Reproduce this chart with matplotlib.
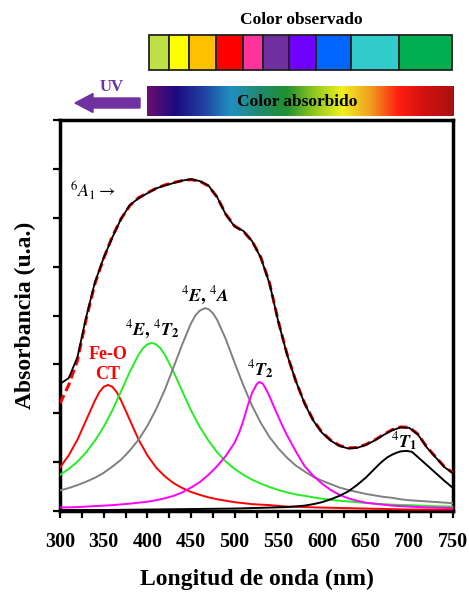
import numpy as np
import matplotlib
matplotlib.use("Agg")
import matplotlib.pyplot as plt
from matplotlib.colors import LinearSegmentedColormap
from matplotlib.patches import Rectangle, FancyArrow
from matplotlib.ticker import MultipleLocator

plt.rcParams['font.family'] = ['Liberation Serif', 'DejaVu Serif']
plt.rcParams['mathtext.fontset'] = 'stix'

# ---------------- data ----------------
wavelength = list(range(300, 751, 10))

measured = [2.60, 2.72, 3.15, 3.97, 4.68, 5.18, 5.60, 5.98, 6.26, 6.40,
            6.50, 6.60, 6.66, 6.71, 6.76, 6.79, 6.75, 6.66, 6.42, 6.06,
            5.82, 5.73, 5.52, 5.18, 4.65, 3.87, 3.20, 2.66, 2.20, 1.85,
            1.60, 1.44, 1.33, 1.28, 1.29, 1.35, 1.44, 1.55, 1.65, 1.71,
            1.70, 1.56, 1.30, 1.10, 0.90, 0.77]

fit = [2.20, 2.58, 3.08, 3.93, 4.65, 5.17, 5.62, 5.98, 6.25, 6.41,
       6.51, 6.60, 6.67, 6.72, 6.76, 6.78, 6.75, 6.65, 6.42, 6.07,
       5.83, 5.72, 5.52, 5.19, 4.66, 3.88, 3.21, 2.66, 2.21, 1.86,
       1.61, 1.45, 1.34, 1.29, 1.30, 1.36, 1.45, 1.56, 1.66, 1.72,
       1.71, 1.57, 1.31, 1.11, 0.91, 0.78]

ct_x = [300, 310, 320, 330, 340, 345, 350, 355, 360, 365,
        370, 380, 390, 400, 410, 420, 430, 440, 450, 460,
        470, 480, 490, 500, 520, 540, 560, 580, 600, 625,
        650, 675, 700, 725, 750]
ct_y = [0.89, 1.14, 1.46, 1.86, 2.26, 2.43, 2.54, 2.58, 2.54, 2.43,
        2.26, 1.86, 1.46, 1.14, 0.89, 0.71, 0.57, 0.47, 0.39, 0.33,
        0.28, 0.24, 0.21, 0.18, 0.14, 0.12, 0.09, 0.08, 0.07, 0.06,
        0.05, 0.04, 0.03, 0.03, 0.03]

et2_x = [300, 310, 320, 330, 340, 350, 360, 370, 380, 390,
         395, 400, 405, 410, 415, 420, 430, 440, 450, 460,
         470, 480, 490, 500, 510, 520, 530, 540, 550, 560,
         570, 580, 590, 600, 620, 640, 660, 680, 700, 725, 750]
et2_y = [0.74, 0.86, 1.01, 1.20, 1.44, 1.72, 2.06, 2.45, 2.85, 3.20,
         3.33, 3.41, 3.44, 3.41, 3.33, 3.20, 2.85, 2.45, 2.06, 1.72,
         1.44, 1.20, 1.01, 0.86, 0.74, 0.64, 0.56, 0.49, 0.43, 0.38,
         0.34, 0.31, 0.28, 0.25, 0.21, 0.18, 0.15, 0.13, 0.12, 0.10, 0.09]

ea_x = [300, 310, 320, 330, 340, 350, 360, 370, 380, 390,
        400, 410, 420, 430, 440, 450, 455, 460, 466, 470,
        475, 480, 490, 500, 510, 520, 530, 540, 550, 560,
        570, 580, 590, 600, 610, 620, 630, 640, 650, 660,
        670, 680, 690, 700, 725, 750]
ea_y = [0.42, 0.47, 0.53, 0.60, 0.68, 0.78, 0.91, 1.05, 1.24, 1.46,
        1.74, 2.08, 2.48, 2.94, 3.41, 3.84, 4.00, 4.10, 4.15, 4.13,
        4.05, 3.91, 3.51, 3.03, 2.57, 2.15, 1.80, 1.51, 1.28, 1.09,
        0.93, 0.81, 0.70, 0.62, 0.55, 0.48, 0.43, 0.39, 0.35, 0.32,
        0.29, 0.27, 0.24, 0.22, 0.19, 0.16]

t2_x = [300, 320, 340, 360, 380, 400, 410, 420, 430, 440,
        450, 460, 470, 480, 490, 500, 505, 510, 515, 520,
        525, 528, 532, 536, 540, 545, 550, 555, 560, 570,
        580, 590, 600, 610, 620, 630, 640, 650, 660, 680,
        700, 725, 750]
t2_y = [0.07, 0.08, 0.10, 0.12, 0.15, 0.19, 0.22, 0.26, 0.31, 0.38,
        0.48, 0.59, 0.74, 0.92, 1.13, 1.40, 1.60, 1.85, 2.16, 2.42,
        2.59, 2.64, 2.61, 2.49, 2.34, 2.13, 1.93, 1.73, 1.55, 1.22,
        0.92, 0.72, 0.56, 0.43, 0.33, 0.26, 0.21, 0.17, 0.15, 0.11,
        0.09, 0.07, 0.06]

t1_x = [300, 350, 400, 450, 500, 540, 560, 580, 590, 600,
        610, 620, 630, 640, 650, 660, 665, 670, 675, 680,
        685, 690, 697, 703, 710, 720, 730, 740, 750]
t1_y = [0.02, 0.02, 0.03, 0.04, 0.05, 0.07, 0.08, 0.11, 0.14, 0.18,
        0.24, 0.31, 0.40, 0.53, 0.68, 0.86, 0.95, 1.03, 1.10, 1.15,
        1.19, 1.22, 1.23, 1.21, 1.10, 0.94, 0.78, 0.62, 0.47]

x_ticks = [300, 350, 400, 450, 500, 550, 600, 650, 700, 750]

observed_colors = ['#BFE046', '#FFFF00', '#FFC000', '#FF0000', '#FF3399',
                   '#7030A0', '#7000FF', '#0066FF', '#33CCCC', '#00B050']
observed_widths = [20, 20, 26, 27, 20, 26, 27, 35, 48, 53]

absorbed_colors = ['#6A1070', '#1C0A80', '#2040A0', '#2090C0', '#208A70',
                   '#209030', '#90C820', '#F0F020', '#F0A020', '#FF2010',
                   '#D01010', '#A81010']

# ---------------- figure ----------------
W, H = 469, 592
fig = plt.figure(figsize=(W / 100, H / 100), dpi=100)


def fx(px):
    return px / W


def fy(py):
    return 1 - py / H


ax = fig.add_axes([fx(60), fy(511), fx(453) - fx(60), fy(120) - fy(511)])

kw = dict(lw=1.4, zorder=3, solid_joinstyle='round')
ax.plot(ct_x, ct_y, color='#FF0000', **kw)
ax.plot(et2_x, et2_y, color='#22EE22', **kw)
ax.plot(ea_x, ea_y, color='#808080', **kw)
ax.plot(t2_x, t2_y, color='#FF00FF', **kw)
ax.plot(t1_x, t1_y, color='black', **kw)
ax.plot(wavelength, fit, color='#FF0000', lw=2.2, ls=(0, (3, 1.5)), zorder=4)
ax.plot(wavelength, measured, color='black', lw=1.3, zorder=5,
        solid_joinstyle='round')

ax.set_xlim(300, 750)
ax.set_ylim(0, 8)
ax.set_xticks(x_ticks)
ax.xaxis.set_minor_locator(MultipleLocator(25))
ax.yaxis.set_major_locator(MultipleLocator(1))
ax.set_yticklabels([])
for sp in ax.spines.values():
    sp.set_linewidth(2.5)
ax.tick_params(axis='both', which='both', direction='out', length=5, width=1.6)
ax.tick_params(axis='x', labelsize=14.5, pad=10)
for lab in ax.get_xticklabels():
    lab.set_fontweight('bold')

ax.set_xlabel('Longitud de onda (nm)', fontsize=17, fontweight='bold', labelpad=12)
ax.set_ylabel('Absorbancia (u.a.)', fontsize=17, fontweight='bold', labelpad=9)

# annotations
ax.text(0.025, 0.82, r'$^{6}\mathit{A}_{1}\rightarrow$', transform=ax.transAxes,
        fontsize=13, ha='left', va='center')
ax.text(0.122, 0.375, 'Fe-O\nCT', transform=ax.transAxes, color='#FF0000',
        fontsize=13, fontweight='bold', ha='center', va='center', linespacing=1.25)
ax.text(0.235, 0.465, r'$^{4}\mathbfit{E}\mathbf{,}\ ^{4}\mathbfit{T}_{\mathbf{2}}$',
        transform=ax.transAxes, fontsize=13, ha='center', va='center')
ax.text(0.37, 0.55, r'$^{4}\mathbfit{E}\mathbf{,}\ ^{4}\mathbfit{A}$',
        transform=ax.transAxes, fontsize=13, ha='center', va='center')
ax.text(0.51, 0.36, r'$^{4}\mathbfit{T}_{\mathbf{2}}$',
        transform=ax.transAxes, fontsize=13, ha='center', va='center')
ax.text(0.875, 0.176, r'$^{4}\mathbfit{T}_{\mathbf{1}}$',
        transform=ax.transAxes, fontsize=13, ha='center', va='center')

# ---------------- observed colour boxes ----------------
total_w = sum(observed_widths)
axb = fig.add_axes([fx(149.3), fy(70), fx(452.3) - fx(149.3), fy(34.7) - fy(70)])
axb.set_xlim(0, total_w)
axb.set_ylim(0, 1)
axb.axis('off')
left = 0
for c, w in zip(observed_colors, observed_widths):
    axb.add_patch(Rectangle((left, 0), w, 1, facecolor=c, edgecolor='#222222',
                            lw=1.3, clip_on=False))
    left += w
fig.text(fx(301), fy(20), 'Color observado', fontsize=12.5, fontweight='bold',
         ha='center', va='center')

# ---------------- absorbed gradient ----------------
cmap = LinearSegmentedColormap.from_list('abs', absorbed_colors)
axg = fig.add_axes([fx(147.3), fy(116), fx(453.3) - fx(147.3), fy(86) - fy(116)])
axg.imshow(np.linspace(0, 1, 256)[None, :], aspect='auto', cmap=cmap,
           extent=(0, 1, 0, 1))
axg.axis('off')
axg.text(0.49, 0.48, 'Color absorbido', fontsize=12.5, fontweight='bold',
         ha='center', va='center', transform=axg.transAxes)

# ---------------- UV arrow ----------------
fig.patches.append(FancyArrow(fx(140), fy(103), fx(75) - fx(140), 0,
                              width=10 / H, head_width=19 / H, head_length=18 / W,
                              length_includes_head=True, color='#7030A0',
                              transform=fig.transFigure, figure=fig))
fig.text(fx(112), fy(87), 'UV', color='#7030A0', fontsize=12, fontweight='bold',
         ha='center', va='center')

fig.savefig('out.png', dpi=100)
